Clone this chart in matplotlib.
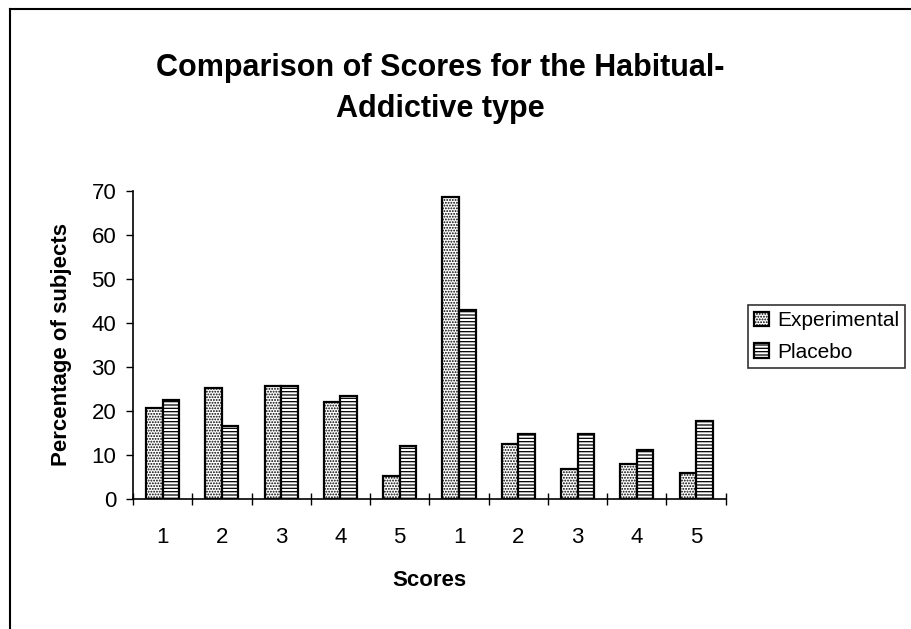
import numpy as np
import matplotlib
matplotlib.use('Agg')
from matplotlib import pyplot as plt
from matplotlib.lines import Line2D

plt.rcParams['font.family'] = ['Liberation Sans', 'DejaVu Sans']
plt.rcParams['hatch.linewidth'] = 0.9

scores = ['1', '2', '3', '4', '5', '1', '2', '3', '4', '5']
experimental = [20.7, 25.2, 25.6, 22.1, 5.2, 68.6, 12.5, 6.8, 7.9, 5.8]
placebo = [22.5, 16.7, 25.6, 23.4, 12.0, 43.0, 14.8, 14.8, 11.2, 17.8]

fig = plt.figure(figsize=(9.12, 6.29), dpi=100)
ax = fig.add_axes([0.1458, 0.2067, 0.650, 0.4897])

x = np.arange(len(scores))
w = 0.28
ax.bar(x - w/2, experimental, w, color='white', edgecolor='black',
       hatch='......', linewidth=1.6, label='Experimental')
ax.bar(x + w/2, placebo, w, color='white', edgecolor='black',
       hatch='-----', linewidth=1.6, label='Placebo')

ax.set_xlim(-0.5, len(scores) - 0.5)
ax.set_ylim(0, 70)
ax.set_yticks(range(0, 71, 10))
ax.set_xticks(x)
ax.set_xticklabels(scores)
ax.set_xticks(np.arange(-0.5, len(scores)), minor=True)
ax.tick_params(axis='x', which='major', length=0, pad=20, labelsize=16)
ax.tick_params(axis='x', which='minor', direction='inout', length=9, width=1)
ax.tick_params(axis='y', direction='out', length=5, width=1, labelsize=16, pad=7)
for s in ['top', 'right']:
    ax.spines[s].set_visible(False)
ax.spines['left'].set_linewidth(1.2)
ax.spines['bottom'].set_linewidth(1.2)

ax.set_xlabel('Scores', fontsize=16, fontweight='bold', labelpad=16)
ax.set_ylabel('Percentage of subjects', fontsize=16, fontweight='bold', labelpad=14)

fig.text(0.483, 0.916, 'Comparison of Scores for the Habitual-\nAddictive type',
         ha='center', va='top', fontsize=22, fontweight='bold', linespacing=1.5)

leg = fig.legend(loc='upper left', bbox_to_anchor=(0.82, 0.515), fontsize=15,
                 frameon=True, fancybox=False, edgecolor='black',
                 handlelength=0.7, handleheight=0.7, handletextpad=0.4,
                 borderpad=0.3, labelspacing=0.6, borderaxespad=0)
leg.get_frame().set_linewidth(1.2)

fig.add_artist(Line2D([0.0105, 1.0], [0.986, 0.986], color='black', lw=1.5,
                      transform=fig.transFigure))
fig.add_artist(Line2D([0.0105, 0.0105], [0.0, 0.986], color='black', lw=1.5,
                      transform=fig.transFigure))

plt.savefig('out.png', dpi=100)
